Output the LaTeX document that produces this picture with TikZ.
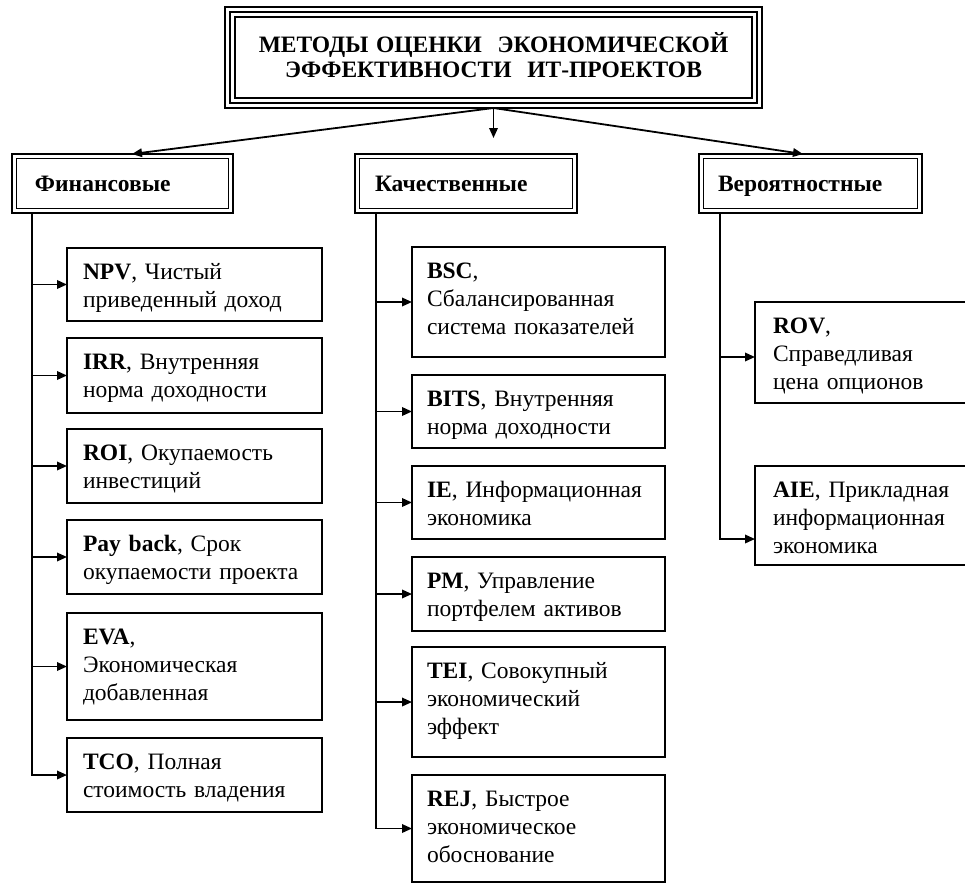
\documentclass[tikz,border=0pt]{standalone}
\usepackage{fontspec}
\setmainfont{Liberation Serif}[BoldFont={Liberation Serif Bold}]
\usetikzlibrary{arrows.meta}
% box text with a left indent on every line
\newcommand\boxtext[2]{\leftskip=#1\relax #2\par}
\begin{document}
\begin{tikzpicture}[x=1pt,y=-1pt,
  frame/.style={draw=black, outer sep=0pt, anchor=north west},
  headbox/.style={frame, line width=2.6pt, align=center, text width=537pt,
    inner xsep=0pt, inner ysep=0pt, text height=45.5pt, text depth=55.5pt,
    font=\bfseries\fontsize{23.5}{25}\selectfont},
  catbox/.style={frame, line width=2.6pt, align=left, inner xsep=0pt, inner ysep=0pt,
    text height=37pt, text depth=22pt, font=\bfseries\fontsize{23.5}{28}\selectfont},
  leaf/.style={frame, line width=2.1pt, align=left, inner xsep=0pt, inner ysep=0pt,
    text height=31.5pt, font=\fontsize{23.5}{28}\selectfont},
  leafL/.style={leaf, text width=255pt},
  leafM/.style={leaf, text width=253pt},
  leafR/.style={leaf, text width=240pt},
  innerline/.style={line width=1pt},
  link/.style={line width=1.8pt, -{Triangle[length=10pt,width=8.5pt]}},
]
\useasboundingbox (0,0) rectangle (965,883);
\clip (0,0) rectangle (965,883);

% heading with a triple frame
\node[headbox] (head) at (225,7)
  {МЕТОДЫ ОЦЕНКИ\ \ ЭКОНОМИЧЕСКОЙ\\ЭФФЕКТИВНОСТИ\ \ ИТ-ПРОЕКТОВ};
\draw[line width=1.1pt] ([shift={(5pt,5pt)}]head.south west) rectangle ([shift={(-5pt,-5pt)}]head.north east);
\draw[line width=1.8pt] ([shift={(10pt,10pt)}]head.south west) rectangle ([shift={(-10pt,-10pt)}]head.north east);

% groups, double frames
\node[catbox, text width=221pt] (fin) at (12,154) {\boxtext{23pt}{Финансовые}};
\node[catbox, text width=222pt] (kach) at (355,154) {\boxtext{20pt}{Качественные}};
\node[catbox, text width=223pt] (ver) at (699,154) {\boxtext{19pt}{Вероятностные}};
\foreach \n in {fin,kach,ver}
  \draw[innerline] ([shift={(4.5pt,4.5pt)}]\n.south west) rectangle ([shift={(-4.5pt,-4.5pt)}]\n.north east);

% financial methods
\node[leafL, text depth=41.5pt] (npv) at (67,248) {\boxtext{16pt}{\textbf{NPV}, Чистый\\приведенный доход}};
\node[leafL, text depth=43.5pt] (irr) at (67,338) {\boxtext{16pt}{\textbf{IRR}, Внутренняя\\норма доходности}};
\node[leafL, text depth=42.5pt] (roi) at (67,429) {\boxtext{16pt}{\textbf{ROI}, Окупаемость\\инвестиций}};
\node[leafL, text depth=42.5pt] (pay) at (67,520) {\boxtext{16pt}{\textbf{Pay back}, Срок\\окупаемости проекта}};
\node[leafL, text depth=75.5pt] (eva) at (67,613) {\boxtext{16pt}{\textbf{EVA},\\Экономическая\\добавленная}};
\node[leafL, text depth=42.5pt] (tco) at (67,738) {\boxtext{16pt}{\textbf{TCO}, Полная\\стоимость владения}};

% qualitative methods
\node[leafM, text depth=78.5pt] (bsc) at (412,247) {\boxtext{15pt}{\textbf{BSC},\\Сбалансированная\\система показателей}};
\node[leafM, text depth=41.5pt] (bits) at (412,375) {\boxtext{15pt}{\textbf{BITS}, Внутренняя\\норма доходности}};
\node[leafM, text depth=41.5pt] (ie) at (412,466) {\boxtext{15pt}{\textbf{IE}, Информационная\\экономика}};
\node[leafM, text depth=42.5pt] (pm) at (412,557) {\boxtext{15pt}{\textbf{PM}, Управление\\портфелем активов}};
\node[leafM, text depth=78.5pt] (tei) at (412,647) {\boxtext{15pt}{\textbf{TEI}, Совокупный\\экономический\\эффект}};
\node[leafM, text depth=75.5pt] (rej) at (412,775) {\boxtext{15pt}{\textbf{REJ}, Быстрое\\экономическое\\обоснование}};

% probabilistic methods
\node[leafR, text depth=69.5pt] (rov) at (755,302) {\boxtext{18pt}{\textbf{ROV},\\Справедливая\\цена опционов}};
\node[leafR, text depth=67.5pt] (aie) at (755,466) {\boxtext{18pt}{\textbf{AIE}, Прикладная\\информационная\\экономика}};

% heading to groups
\coordinate (drop) at ([yshift=-30pt]head.south);
\draw[link] (head.south) -- ([xshift=9.5pt]fin.north);
\draw[link] (head.south) -- ([xshift=-7.5pt]ver.north);
\draw[link] (head.south) -- (drop);

% trunks and branches
\coordinate (t1) at ([xshift=20pt]fin.south west);
\coordinate (t2) at ([xshift=21pt]kach.south west);
\coordinate (t3) at ([xshift=21pt]ver.south west);
\foreach \n in {npv,irr,roi,pay,eva,tco}
  \draw[link] (t1) |- (\n.west);
\foreach \n in {bsc,bits,ie,pm,tei,rej}
  \draw[link] (t2) |- (\n.west);
\draw[link] (t3) |- ([yshift=-4.5pt]rov.west);
\draw[link] (t3) |- ([yshift=-23.5pt]aie.west);
\end{tikzpicture}
\end{document}
